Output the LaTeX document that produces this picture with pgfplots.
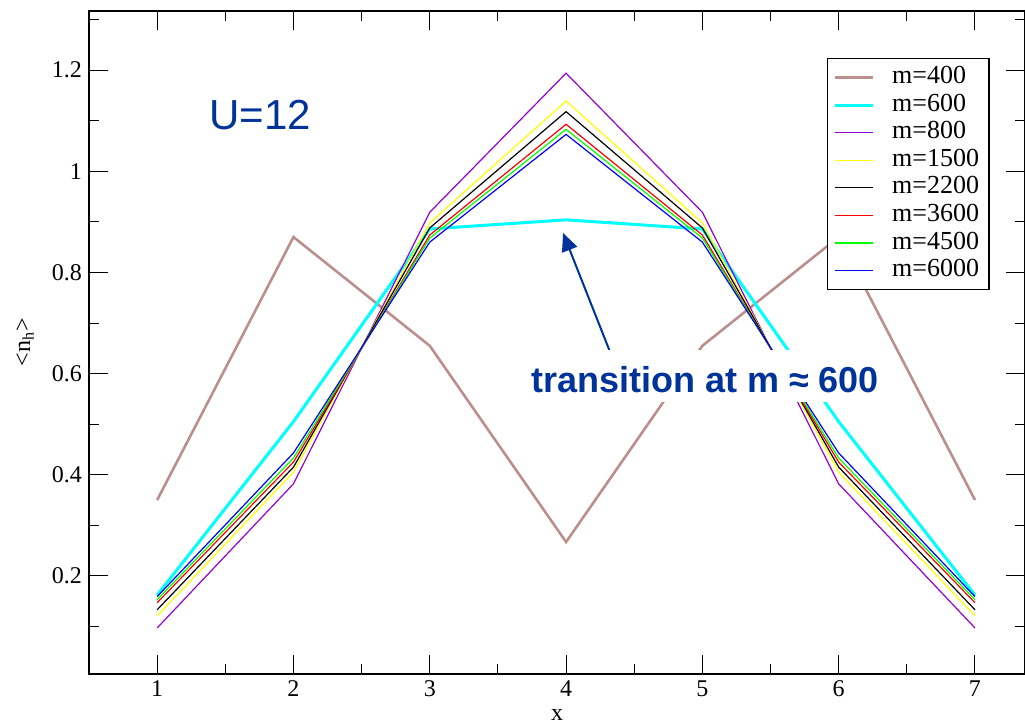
\documentclass[border=0pt]{standalone}
\usepackage{fontspec}
\setmainfont{Liberation Serif}
\newfontfamily\arialfont{Liberation Sans}
\usepackage{pgfplots}
\pgfplotsset{compat=1.18}
\usetikzlibrary{arrows.meta}
\definecolor{rosy}{RGB}{188,143,143}
\definecolor{cyang}{RGB}{0,255,255}
\definecolor{violetg}{RGB}{148,0,211}
\definecolor{yellowg}{RGB}{255,255,0}
\definecolor{redg}{RGB}{255,0,0}
\definecolor{greeng}{RGB}{0,255,0}
\definecolor{blueg}{RGB}{0,0,255}
\definecolor{annblue}{RGB}{0,51,153}
\begin{document}
\begin{tikzpicture}
\begin{axis}[name=ax, scale only axis, width=468pt, height=331.5pt,
  xmin=0.5, xmax=7.367, ymin=0.006, ymax=1.317,
  xtick={1,2,3,4,5,6,7}, minor xtick={1.5,2.5,3.5,4.5,5.5,6.5},
  ytick={0.2,0.4,0.6,0.8,1.0,1.2}, minor ytick={0.1,0.3,0.5,0.7,0.9,1.1,1.3},
  tick align=inside, major tick length=9.5pt, minor tick length=5pt,
  every tick/.style={black, line width=0.5pt},
  axis line style={line width=1pt},
  ticklabel style={font=\fontsize{12}{14}\selectfont},
  /pgf/number format/assume math mode=true,
  xlabel={x}, ylabel={<n\textsubscript{h}>},
  every axis x label/.style={at={(axis description cs:0.5,-0.0618)}, anchor=center, font=\fontsize{12}{14}\selectfont},
  every axis y label/.style={at={(axis description cs:-0.0684,0.5)}, anchor=center, rotate=90, font=\fontsize{12}{14}\selectfont},
  legend cell align=left,
  legend image code/.code={\draw[#1] (0pt,0pt) -- (19pt,0pt);},
  legend style={at={(0.788,0.929)}, anchor=north west, draw=black, line width=0.6pt,
    inner xsep=3pt, inner ysep=2.5pt, row sep=0pt, column sep=7pt,
    font=\fontsize{13}{13}\selectfont,
    nodes={inner ysep=1.4pt, inner xsep=2pt, text height=8.5pt, text depth=2.5pt}},
]
\addplot[rosy, line width=1.3pt] coordinates {(1,0.35) (2,0.87) (3,0.655) (4,0.267) (5,0.655) (6,0.87) (7,0.35)};
\addlegendentry{m=400}
\addplot[cyang, line width=1.5pt] coordinates {(1,0.162) (2,0.505) (3,0.886) (4,0.904) (5,0.886) (6,0.505) (7,0.162)};
\addlegendentry{m=600}
\addplot[violetg, line width=0.6pt] coordinates {(1,0.097) (2,0.382) (3,0.919) (4,1.194) (5,0.919) (6,0.382) (7,0.097)};
\addlegendentry{m=800}
\addplot[yellowg, line width=0.6pt] coordinates {(1,0.121) (2,0.405) (3,0.898) (4,1.139) (5,0.898) (6,0.405) (7,0.121)};
\addlegendentry{m=1500}
\addplot[black, line width=0.6pt] coordinates {(1,0.133) (2,0.415) (3,0.888) (4,1.118) (5,0.888) (6,0.415) (7,0.133)};
\addlegendentry{m=2200}
\addplot[redg, line width=0.6pt] coordinates {(1,0.147) (2,0.425) (3,0.874) (4,1.093) (5,0.874) (6,0.425) (7,0.147)};
\addlegendentry{m=3600}
\addplot[greeng, line width=0.6pt] coordinates {(1,0.153) (2,0.433) (3,0.868) (4,1.083) (5,0.868) (6,0.433) (7,0.153)};
\addlegendentry{m=4500}
\addplot[blueg, line width=0.6pt] coordinates {(1,0.159) (2,0.443) (3,0.860) (4,1.073) (5,0.860) (6,0.443) (7,0.159)};
\addlegendentry{m=6000}
\node[font=\arialfont\fontsize{21}{21}\selectfont, text=annblue] at (axis cs:1.755,1.111) {U=12};
\draw[annblue, line width=1pt, -{Triangle[length=9pt,width=8pt]}] (axis cs:4.337,0.633) -- (axis cs:3.978,0.878);
\node[fill=white, font=\arialfont\bfseries\fontsize{18}{18}\selectfont, text=annblue,
  inner xsep=8pt, inner ysep=5pt, text height=16pt, text depth=0pt] at (axis cs:5.02,0.595) {transition at m ≈ 600};
\end{axis}
\pgfresetboundingbox
\useasboundingbox ([xshift=-44.5pt,yshift=-26.5pt]ax.south west) rectangle ([yshift=5.5pt]ax.north east);
\end{tikzpicture}
\end{document}
